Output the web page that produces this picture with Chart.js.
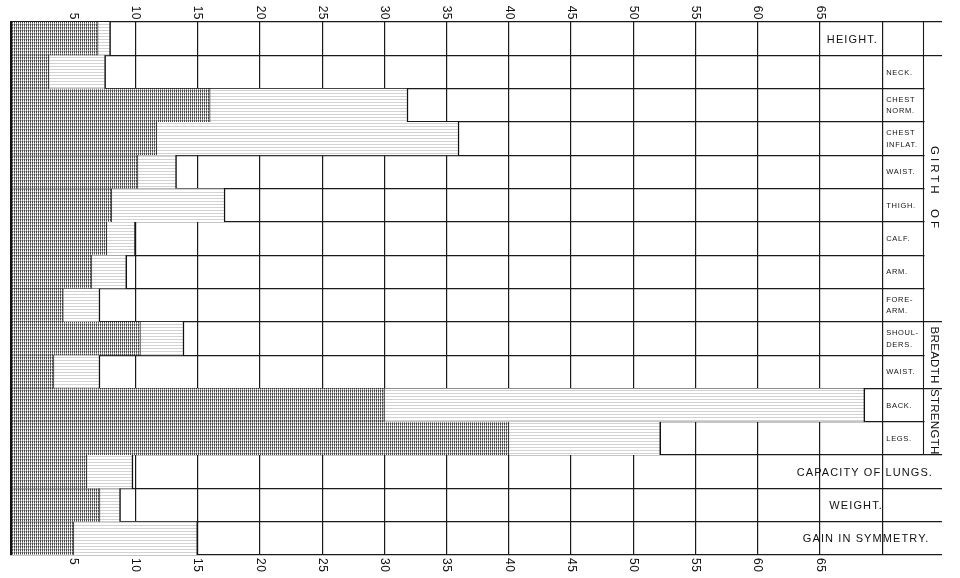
<!DOCTYPE html>
<html><head><meta charset="utf-8">
<script src="https://cdn.jsdelivr.net/npm/chart.js@4"></script>
<style>html,body{margin:0;padding:0;background:#fff}canvas{display:block}</style>
</head><body>
<canvas id="c" width="960" height="578"></canvas>
<script>
// ---- data ----
const categories = [
  ['HEIGHT.'], ['NECK.'], ['CHEST', 'NORM.'], ['CHEST', 'INFLAT.'], ['WAIST.'], ['THIGH.'],
  ['CALF.'], ['ARM.'], ['FORE-', 'ARM.'], ['SHOUL-', 'DERS.'], ['WAIST.'], ['BACK.'], ['LEGS.'],
  ['CAPACITY OF LUNGS.'], ['WEIGHT.'], ['GAIN IN SYMMETRY.']
];
const hatchedEnd = [7.0, 3.05, 16.0, 11.7, 10.2, 8.1, 7.7, 6.5, 4.2, 10.4, 3.45, 30.0, 40.0, 6.1, 7.15, 5.05];
const linedEnd   = [8.0, 7.6, 31.9, 36.0, 13.3, 17.2, 10.0, 9.3, 7.15, 13.9, 7.15, 68.6, 52.2, 9.8, 8.8, 15.0];
const tickLabels = [5, 10, 15, 20, 25, 30, 35, 40, 45, 50, 55, 60, 65];
const gridValues = [0, 5, 10, 15, 20, 25, 30, 35, 40, 45, 50, 55, 60, 65, 70];
const groups = [
  { name: 'GIRTH  OF', from: 1, to: 8, spacing: 3 },
  { name: 'BREADTH', from: 9, to: 10, spacing: 0.3 },
  { name: 'STRENGTH', from: 11, to: 12, spacing: 0.3 }
];
// wide labels drawn in the plot area: row index -> centre value on the x scale
const wideLabels = [
  { row: 0, at: 67.6 },
  { row: 13, at: 68.6 },
  { row: 14, at: 67.9 },
  { row: 15, at: 68.7 }
];

// ---- patterns ----
const canvas = document.getElementById('c');
const mainCtx = canvas.getContext('2d');
function makePattern(w, h, draw) {
  const t = document.createElement('canvas');
  t.width = w; t.height = h;
  const g = t.getContext('2d');
  g.fillStyle = '#fff'; g.fillRect(0, 0, w, h);
  draw(g);
  return mainCtx.createPattern(t, 'repeat');
}
const hatch = makePattern(2, 3, g => {
  g.fillStyle = '#4a4a4a'; g.fillRect(0, 0, 1, 2);
  g.fillStyle = '#999'; g.fillRect(0, 2, 1, 1);
  g.fillStyle = '#b5b5b5'; g.fillRect(1, 0, 1, 1);
});
const lined = makePattern(4, 3, g => {
  g.fillStyle = '#d2d2d2'; g.fillRect(0, 0, 4, 1);
});

const overlay = {
  id: 'overlay',
  afterDraw(chart) {
    const { ctx, chartArea: a, scales: { x } } = chart;
    const n = categories.length;
    const rowH = (a.bottom - a.top) / n;
    const rowTop = i => a.top + i * rowH;
    const sepX = Math.round(a.right - 19) + 0.5;
    const colX = x.getPixelForValue(70);
    ctx.save();
    // clear group label columns
    ctx.fillStyle = '#fff';
    groups.forEach(g => {
      ctx.fillRect(sepX + 1, rowTop(g.from) + 1.5, a.right - sepX + 4, (g.to - g.from + 1) * rowH - 3);
    });
    // separator
    ctx.strokeStyle = '#1a1a1a'; ctx.lineWidth = 1.1;
    ctx.beginPath(); ctx.moveTo(sepX, a.top); ctx.lineTo(sepX, rowTop(13)); ctx.stroke();

    ctx.fillStyle = '#111';
    // small labels in column
    ctx.font = '7.5px "Liberation Sans", Arial, sans-serif';
    ctx.letterSpacing = '0.7px';
    ctx.textAlign = 'left'; ctx.textBaseline = 'middle';
    for (let i = 1; i <= 12; i++) {
      const lines = categories[i];
      const cy = rowTop(i) + rowH / 2;
      if (lines.length === 1) ctx.fillText(lines[0], colX + 4, cy + 0.5);
      else { ctx.fillText(lines[0], colX + 4, cy - 5.5); ctx.fillText(lines[1], colX + 4, cy + 6); }
    }
    // wide labels
    ctx.font = '11px "Liberation Sans", Arial, sans-serif';
    ctx.letterSpacing = '1.1px';
    ctx.textAlign = 'center';
    wideLabels.forEach(w => {
      ctx.fillText(categories[w.row][0], x.getPixelForValue(w.at), rowTop(w.row) + rowH / 2 + 1);
    });
    // group labels rotated
    ctx.font = '11.5px "Liberation Sans", Arial, sans-serif';
    groups.forEach(g => {
      ctx.save();
      ctx.letterSpacing = g.spacing + 'px';
      const cy = (rowTop(g.from) + rowTop(g.to + 1)) / 2;
      ctx.translate((sepX + a.right) / 2 + 1, cy);
      ctx.rotate(Math.PI / 2);
      ctx.textAlign = 'center'; ctx.textBaseline = 'middle';
      ctx.fillText(g.name, 0, 0);
      ctx.restore();
    });
    // tick labels top and bottom, rotated clockwise
    ctx.font = '12px "Liberation Sans", Arial, sans-serif';
    ctx.letterSpacing = '0.5px';
    tickLabels.forEach(v => {
      const px = x.getPixelForValue(v);
      ctx.save();
      ctx.translate(px, a.top - 2);
      ctx.rotate(Math.PI / 2);
      ctx.textAlign = 'right'; ctx.textBaseline = 'middle';
      ctx.fillText(String(v), 0, 0);
      ctx.restore();
      ctx.save();
      ctx.translate(px, a.bottom + 3);
      ctx.rotate(Math.PI / 2);
      ctx.textAlign = 'left'; ctx.textBaseline = 'middle';
      ctx.fillText(String(v), 0, 0);
      ctx.restore();
    });
    ctx.restore();
  }
};

new Chart(mainCtx, {
  type: 'bar',
  data: {
    labels: categories,
    datasets: [
      { label: 'Hatched', data: hatchedEnd, backgroundColor: hatch, borderColor: '#2a2a2a',
        borderWidth: { top: 0, right: 1, bottom: 0, left: 0 }, borderSkipped: false },
      { label: 'Lined', data: linedEnd.map((v, i) => v - hatchedEnd[i]), backgroundColor: lined, borderColor: '#111',
        borderWidth: { top: 0, right: 1.5, bottom: 0, left: 0 }, borderSkipped: false }
    ]
  },
  options: {
    indexAxis: 'y',
    responsive: false,
    animation: false,
    devicePixelRatio: 1,
    layout: { padding: { left: 11, top: 22, right: 18, bottom: 23 } },
    plugins: { legend: { display: false }, tooltip: { enabled: false } },
    datasets: { bar: { barPercentage: 1, categoryPercentage: 1 } },
    scales: {
      x: {
        type: 'linear', stacked: true, min: 0, max: 74.8, z: 1,
        afterBuildTicks: s => { s.ticks = gridValues.map(v => ({ value: v })); },
        ticks: { display: false },
        grid: { color: '#1a1a1a', lineWidth: c => (c.tick && c.tick.value === 0 ? 2 : 1.2), drawTicks: false },
        border: { display: false }
      },
      y: {
        stacked: true, z: 1,
        ticks: { display: false },
        grid: { color: '#1a1a1a', lineWidth: 1.2, drawTicks: false, offset: true },
        border: { display: true, color: '#111', width: 2 }
      }
    }
  },
  plugins: [overlay]
});
</script>
</body></html>
